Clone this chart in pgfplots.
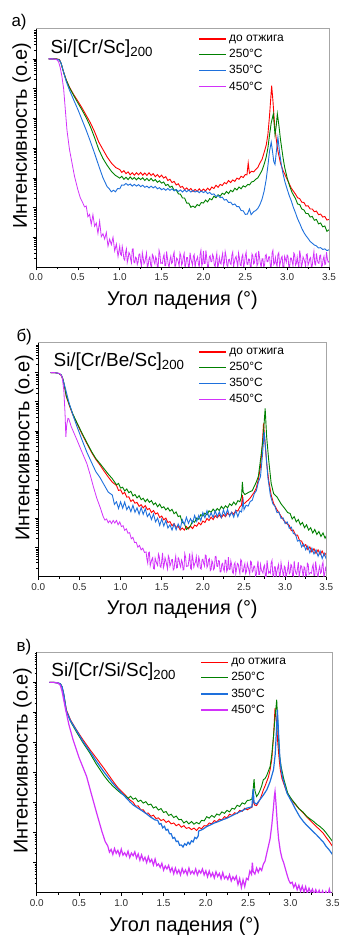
\documentclass[border=0pt]{standalone}
\usepackage{fontspec}
\setmainfont{Liberation Sans}
\usepackage{pgfplots}
\pgfplotsset{compat=1.18}
\definecolor{cred}{RGB}{255,0,0}
\definecolor{cgreen}{RGB}{0,128,0}
\definecolor{cblue}{RGB}{30,112,220}
\definecolor{cmag}{RGB}{210,50,250}
\definecolor{tickgray}{RGB}{45,45,45}
\pgfplotsset{
 panel/.style={
  scale only axis, clip mode=individual,
  xmin=0, xmax=3.5, ymin=0, ymax=8.04,
  axis x line*=bottom, axis y line*=left,
  axis line style={black, line width=0.9bp, -},
  xtick={0,0.5,1,1.5,2,2.5,3,3.5},
  minor xtick={0.25,0.75,1.25,1.75,2.25,2.75,3.25},
  ytick={1,2,3,4,5,6,7},
  minor ytick={0.301,0.477,0.602,0.699,0.778,0.845,0.903,0.954,
   1.301,1.477,1.602,1.699,1.778,1.845,1.903,1.954,
   2.301,2.477,2.602,2.699,2.778,2.845,2.903,2.954,
   3.301,3.477,3.602,3.699,3.778,3.845,3.903,3.954,
   4.301,4.477,4.602,4.699,4.778,4.845,4.903,4.954,
   5.301,5.477,5.602,5.699,5.778,5.845,5.903,5.954,
   6.301,6.477,6.602,6.699,6.778,6.845,6.903,6.954,
   7.301,7.477,7.602,7.699,7.778,7.845,7.903,7.954},
  yticklabels={},
  tick align=outside,
  major tick length=3.5bp, minor tick length=2bp,
  every tick/.style={black, line width=0.6bp},
  xticklabel style={font=\fontsize{10}{11}\selectfont, text=tickgray},
  /pgf/number format/.cd, fixed, fixed zerofill, precision=1, assume math mode=true, /pgfplots/.cd,
  xlabel={Угол падения (°)},
  xlabel style={font=\fontsize{20}{24}\selectfont, at={(axis description cs:0.5,-0.163)}, anchor=base},
  ylabel={Интенсивность (о.е)},
  ylabel style={font=\fontsize{20}{24}\selectfont, at={(axis description cs:-0.031,0.55)}, anchor=base, rotate=0},
  legend style={draw=none, fill=none, inner sep=0pt, outer sep=0pt, anchor=north west, text=black,
   font=\fontsize{12}{12.5}\selectfont, row sep=2.3bp, cells={anchor=west}},
  legend image code/.code={\draw[#1] (0bp,0bp) -- (27bp,0bp);},
 }
}
\begin{document}
\begin{tikzpicture}
\useasboundingbox (0,0) rectangle (339bp,935bp);
% ---------------- panel a ----------------
\node[anchor=base west, font=\fontsize{17}{18}\selectfont] at (8bp,908bp) {а)};
\begin{axis}[panel, at={(36bp,668bp)}, anchor=south west, width=293bp, height=239bp,
  legend style={at={(axis description cs:0.553,0.978)}}]
\addlegendimage{cred, line width=2.2bp}\addlegendentry{до отжига}
\addlegendimage{cgreen, line width=1bp}\addlegendentry{250°C}
\addlegendimage{cblue, line width=1bp}\addlegendentry{350°C}
\addlegendimage{cmag, line width=1bp}\addlegendentry{450°C}
\addplot[forget plot, cred, line width=0.9bp] coordinates {
(0.15,7.00)(0.20,7.00)(0.25,7.00)(0.28,6.98)(0.30,6.85)(0.33,6.55)(0.36,6.30)(0.40,6.05)(0.45,5.80)(0.50,5.58)
(0.55,5.35)(0.60,5.10)(0.65,4.85)(0.70,4.55)(0.75,4.20)(0.80,3.95)(0.85,3.70)(0.90,3.50)(0.95,3.35)
(1.000,3.28)(1.025,3.18)(1.050,3.24)(1.075,3.14)(1.100,3.20)(1.125,3.10)(1.150,3.17)(1.175,3.09)(1.200,3.17)(1.225,3.10)
(1.250,3.18)(1.275,3.09)(1.300,3.16)(1.325,3.08)(1.350,3.17)(1.375,3.08)(1.400,3.14)(1.425,3.04)(1.450,3.11)(1.475,3.02)
(1.500,3.09)(1.525,2.99)(1.550,3.04)(1.575,2.91)(1.600,2.95)(1.625,2.84)(1.650,2.88)(1.675,2.76)(1.700,2.80)(1.725,2.68)
(1.750,2.71)(1.775,2.60)(1.800,2.66)(1.825,2.58)(1.850,2.64)(1.875,2.54)(1.900,2.61)(1.925,2.54)(1.950,2.63)(1.975,2.55)
(2.000,2.62)(2.025,2.56)(2.050,2.65)(2.075,2.58)(2.100,2.69)(2.125,2.64)(2.150,2.75)(2.175,2.68)(2.200,2.78)(2.225,2.74)
(2.250,2.84)(2.275,2.80)(2.300,2.91)(2.325,2.84)(2.350,2.93)(2.375,2.88)(2.400,2.99)(2.425,2.95)(2.450,3.05)(2.475,3.01)
(2.500,3.11)(2.52,3.10)(2.535,3.50)(2.55,3.15)(2.575,3.22)(2.60,3.20)(2.625,3.28)(2.65,3.35)(2.675,3.50)(2.70,3.62)
(2.725,3.85)(2.75,4.10)(2.77,4.45)(2.79,5.10)(2.815,6.10)(2.83,5.60)(2.85,4.80)(2.87,4.30)(2.89,3.90)(2.92,3.50)
(2.95,3.25)(3.00,2.95)(3.05,2.65)(3.10,2.45)(3.125,2.33)(3.15,2.30)(3.175,2.18)(3.20,2.17)(3.225,2.05)(3.25,2.06)
(3.275,1.95)(3.30,1.95)(3.325,1.86)(3.35,1.88)(3.375,1.76)(3.40,1.78)(3.425,1.68)(3.45,1.70)(3.475,1.58)(3.50,1.60)};
\addplot[forget plot, cgreen, line width=0.9bp] coordinates {
(0.15,7.00)(0.20,7.00)(0.25,6.99)(0.28,6.96)(0.30,6.85)(0.33,6.55)(0.36,6.30)(0.40,6.03)(0.45,5.77)(0.50,5.52)
(0.55,5.28)(0.60,5.02)(0.65,4.72)(0.70,4.35)(0.75,3.95)(0.80,3.65)(0.85,3.42)(0.90,3.22)(0.95,3.08)
(1.000,2.99)(1.025,3.05)(1.050,2.95)(1.075,3.02)(1.100,2.94)(1.125,3.03)(1.150,2.95)(1.175,3.01)(1.200,2.93)(1.225,3.00)
(1.250,2.94)(1.275,3.00)(1.300,2.91)(1.325,2.98)(1.350,2.90)(1.375,2.98)(1.400,2.89)(1.425,2.94)(1.450,2.85)(1.475,2.90)
(1.500,2.82)(1.525,2.86)(1.550,2.74)(1.575,2.78)(1.600,2.68)(1.625,2.72)(1.650,2.58)(1.675,2.60)(1.700,2.46)(1.725,2.45)
(1.750,2.32)(1.775,2.32)(1.800,2.15)(1.825,2.15)(1.850,2.01)(1.875,2.05)(1.900,2.00)(1.925,2.10)(1.950,2.06)(1.975,2.17)
(2.000,2.15)(2.025,2.25)(2.050,2.19)(2.075,2.30)(2.100,2.26)(2.125,2.38)(2.150,2.33)(2.175,2.43)(2.200,2.38)(2.225,2.48)
(2.250,2.44)(2.275,2.54)(2.300,2.47)(2.325,2.58)(2.350,2.53)(2.375,2.65)(2.400,2.59)(2.425,2.69)(2.450,2.63)(2.475,2.73)
(2.500,2.69)(2.53,2.78)(2.55,2.76)(2.575,2.86)(2.60,2.88)(2.625,2.95)(2.65,3.00)(2.675,3.12)(2.70,3.25)(2.725,3.45)
(2.75,3.70)(2.77,4.00)(2.79,4.45)(2.81,4.85)(2.835,5.15)(2.855,4.45)(2.87,4.75)(2.883,5.15)(2.90,4.80)(2.92,4.30)
(2.95,3.70)(2.97,3.36)(3.00,3.00)(3.03,2.72)(3.06,2.50)(3.10,2.30)(3.125,2.12)(3.15,2.10)(3.175,1.95)(3.20,1.92)
(3.225,1.80)(3.25,1.80)(3.275,1.68)(3.30,1.70)(3.325,1.57)(3.35,1.60)(3.375,1.45)(3.40,1.48)(3.425,1.35)(3.45,1.38)
(3.475,1.20)(3.50,1.25)};
\addplot[forget plot, cblue, line width=0.9bp] coordinates {
(0.15,7.00)(0.20,7.00)(0.25,6.99)(0.28,6.96)(0.30,6.85)(0.33,6.55)(0.36,6.25)(0.40,5.95)(0.45,5.62)(0.50,5.30)
(0.55,4.95)(0.60,4.60)(0.65,4.22)(0.70,3.82)(0.75,3.40)(0.80,3.00)(0.85,2.70)
(0.875,2.63)(0.900,2.53)(0.925,2.58)(0.950,2.53)(0.975,2.64)(1.000,2.63)(1.025,2.76)(1.050,2.75)(1.075,2.81)(1.100,2.75)
(1.125,2.79)(1.150,2.72)(1.175,2.78)(1.200,2.72)(1.225,2.77)(1.250,2.70)(1.275,2.75)(1.300,2.68)(1.325,2.72)(1.350,2.66)
(1.375,2.72)(1.400,2.66)(1.425,2.71)(1.450,2.63)(1.475,2.67)(1.500,2.60)(1.525,2.64)(1.550,2.58)(1.575,2.64)(1.600,2.58)
(1.625,2.63)(1.650,2.56)(1.675,2.61)(1.700,2.54)(1.725,2.59)(1.750,2.52)(1.775,2.59)(1.800,2.53)(1.825,2.59)(1.850,2.52)
(1.875,2.58)(1.900,2.52)(1.925,2.56)(1.950,2.50)(1.975,2.56)(2.000,2.50)(2.025,2.55)(2.050,2.47)(2.075,2.51)(2.100,2.44)
(2.125,2.46)(2.150,2.37)(2.175,2.41)(2.200,2.33)(2.225,2.35)(2.250,2.25)(2.275,2.27)(2.300,2.17)(2.325,2.18)(2.350,2.09)
(2.375,2.12)(2.400,2.03)(2.425,2.03)(2.450,1.90)(2.475,1.89)(2.500,1.77)(2.525,1.78)(2.55,1.95)(2.57,1.76)(2.60,1.86)
(2.625,1.90)(2.65,1.97)(2.675,2.10)(2.70,2.28)(2.725,2.55)(2.75,2.95)(2.77,3.40)(2.79,3.90)(2.81,4.20)(2.825,3.90)
(2.84,3.55)(2.855,3.45)(2.87,3.85)(2.89,4.36)(2.91,3.85)(2.93,3.45)(2.95,3.15)(2.975,2.85)(3.00,2.62)(3.025,2.40)
(3.05,2.22)(3.075,2.00)(3.10,1.82)(3.125,1.62)(3.15,1.47)(3.175,1.30)(3.20,1.16)(3.225,1.05)(3.25,0.96)(3.275,0.86)
(3.30,0.80)(3.325,0.74)(3.35,0.71)(3.375,0.64)(3.40,0.65)(3.425,0.59)(3.45,0.61)(3.475,0.55)(3.50,0.58)};
\addplot[forget plot, cmag, line width=0.8bp] coordinates {
(0.15,7.00)(0.20,7.00)(0.25,6.97)(0.27,6.90)(0.29,6.70)(0.31,6.40)(0.33,6.00)(0.35,5.30)(0.37,4.60)(0.40,3.95)
(0.43,3.50)(0.46,3.05)(0.50,2.60)(0.53,2.32)(0.56,2.15)(0.58,2.02)
(0.60,2.05)(0.62,1.69)(0.64,1.77)(0.66,1.43)(0.68,1.76)(0.70,1.37)(0.72,1.48)(0.74,1.13)(0.76,1.54)(0.78,1.02)
(0.80,1.12)(0.82,0.94)(0.84,1.16)(0.86,0.70)(0.88,0.94)(0.90,0.75)(0.92,1.00)(0.94,0.54)(0.96,0.77)(0.98,0.35)
(1.00,0.70)(1.01,0.43)(1.02,0.39)(1.03,0.69)(1.04,0.52)(1.05,0.27)(1.06,0.23)(1.07,0.49)(1.08,0.61)(1.09,0.15)
(1.10,0.27)(1.11,0.49)(1.12,0.44)(1.13,0.27)(1.14,0.14)(1.15,0.60)(1.16,0.61)(1.17,0.16)(1.18,0.14)(1.19,0.33)
(1.20,0.30)(1.21,0.08)(1.22,0.17)(1.23,0.43)(1.24,0.44)(1.25,0.17)(1.26,0.02)(1.27,0.48)(1.28,0.31)(1.29,0.11)
(1.30,0.17)(1.31,0.32)(1.32,0.47)(1.33,-0.02)(1.34,0.06)(1.35,0.28)(1.36,0.34)(1.37,0.06)(1.38,-0.03)(1.39,0.42)
(1.40,0.37)(1.41,0.18)(1.42,0.10)(1.43,0.34)(1.44,0.27)(1.45,0.00)(1.46,0.02)(1.47,0.56)(1.48,0.44)(1.49,0.12)
(1.50,0.14)(1.51,0.12)(1.52,0.32)(1.53,0.42)(1.54,0.04)(1.55,0.04)(1.56,0.52)(1.57,0.30)(1.58,0.07)(1.59,0.00)
(1.60,0.24)(1.61,0.36)(1.62,0.12)(1.63,0.16)(1.64,0.40)(1.65,0.50)(1.66,0.00)(1.67,0.08)(1.68,0.30)(1.69,0.26)
(1.70,0.17)(1.71,0.02)(1.72,0.47)(1.73,0.38)(1.74,0.06)(1.75,0.14)(1.76,0.34)(1.77,0.46)(1.78,-0.03)(1.79,0.10)
(1.80,0.32)(1.81,0.32)(1.82,0.02)(1.83,-0.02)(1.84,0.48)(1.85,0.28)(1.86,0.16)(1.87,0.06)(1.88,0.36)(1.89,0.42)
(1.90,-0.02)(1.91,0.18)(1.92,0.26)(1.93,0.34)(1.94,0.10)(1.95,0.00)(1.96,0.42)(1.97,0.56)(1.98,0.04)(1.99,0.12)
(2.00,0.54)(2.01,0.12)(2.02,0.12)(2.03,0.56)(2.04,0.28)(2.05,0.00)(2.06,0.00)(2.07,0.34)(2.08,0.38)(2.09,0.18)
(2.10,0.18)(2.11,0.42)(2.12,0.34)(2.13,0.06)(2.14,0.02)(2.15,0.28)(2.16,0.46)(2.17,-0.02)(2.18,0.08)(2.19,0.32)
(2.20,0.14)(2.21,0.10)(2.22,0.32)(2.23,0.46)(2.24,0.04)(2.25,0.14)(2.26,0.52)(2.27,0.38)(2.28,0.07)(2.29,0.02)
(2.30,0.24)(2.31,0.26)(2.32,0.12)(2.33,0.08)(2.34,0.40)(2.35,0.50)(2.36,0.00)(2.37,0.16)(2.38,0.30)(2.39,0.36)
(2.40,0.17)(2.41,0.00)(2.42,0.47)(2.43,0.30)(2.44,0.06)(2.45,0.04)(2.46,0.34)(2.47,0.42)(2.48,-0.03)(2.49,0.12)
(2.50,0.37)(2.51,0.50)(2.52,0.10)(2.53,0.08)(2.54,0.27)(2.55,0.26)(2.56,0.02)(2.57,0.02)(2.58,0.44)(2.59,0.38)
(2.60,0.10)(2.61,0.14)(2.62,0.42)(2.63,0.46)(2.64,0.04)(2.65,0.10)(2.66,0.54)(2.67,0.32)(2.68,0.12)(2.69,-0.02)
(2.70,0.28)(2.71,0.28)(2.72,0.00)(2.73,0.06)(2.74,0.38)(2.75,0.42)(2.76,0.18)(2.77,0.18)(2.78,0.34)(2.79,0.34)
(2.80,0.02)(2.81,0.00)(2.82,0.46)(2.83,0.56)(2.84,0.08)(2.85,0.12)(2.86,0.32)(2.87,0.12)(2.88,0.02)(2.89,0.42)
(2.90,0.48)(2.91,0.04)(2.92,0.16)(2.93,0.30)(2.94,0.36)(2.95,0.00)(2.96,-0.02)(2.97,0.36)(2.98,0.26)(2.99,0.16)
(3.00,0.40)(3.01,0.36)(3.02,0.00)(3.03,0.00)(3.04,0.30)(3.05,0.30)(3.06,0.17)(3.07,0.04)(3.08,0.47)(3.09,0.42)
(3.10,0.06)(3.11,0.12)(3.12,0.34)(3.13,0.12)(3.14,-0.03)(3.15,0.56)(3.16,0.37)(3.17,0.00)(3.18,0.10)(3.19,0.34)
(3.20,0.27)(3.21,0.18)(3.22,0.02)(3.23,0.42)(3.24,0.44)(3.25,0.06)(3.26,0.14)(3.27,0.28)(3.28,0.32)(3.29,-0.02)
(3.30,0.04)(3.31,0.32)(3.32,0.52)(3.33,0.10)(3.34,0.07)(3.35,0.46)(3.36,0.24)(3.37,0.14)(3.38,0.12)(3.39,0.38)
(3.40,0.40)(3.41,0.02)(3.42,0.04)(3.43,0.26)(3.44,0.36)(3.45,0.08)(3.46,0.10)(3.47,0.50)(3.48,0.28)(3.49,0.16)
(3.50,0.20)};
\draw[gray!70, line width=0.6bp] (axis description cs:0,1) -- (axis description cs:1,1) -- (axis description cs:1,0);
\node[anchor=base west, font=\fontsize{19}{20}\selectfont] at (axis description cs:0.0375,0.895) {Si/[Cr/Sc]\textsubscript{200}};
\end{axis}
% ---------------- panel b ----------------
\node[anchor=base west, font=\fontsize{17}{18}\selectfont] at (13bp,593bp) {б)};
\begin{axis}[panel, at={(38.3bp,358.3bp)}, anchor=south west, width=288bp, height=234.4bp,
  legend style={at={(axis description cs:0.555,0.984)}}]
\addlegendimage{cred, line width=2.2bp}\addlegendentry{до отжига}
\addlegendimage{cgreen, line width=1bp}\addlegendentry{250°C}
\addlegendimage{cblue, line width=1bp}\addlegendentry{350°C}
\addlegendimage{cmag, line width=1bp}\addlegendentry{450°C}
\addplot[forget plot, cred, line width=0.9bp] coordinates {
(0.15,7.00)(0.20,7.00)(0.25,6.97)(0.28,6.90)(0.30,6.75)(0.32,6.50)(0.34,6.18)(0.38,5.85)(0.42,5.55)(0.47,5.26)
(0.53,4.90)(0.59,4.57)(0.65,4.25)(0.70,4.02)(0.75,3.83)(0.80,3.62)(0.85,3.42)(0.90,3.24)
(0.950,3.13)(0.975,2.96)(1.000,2.98)(1.025,2.84)(1.050,2.89)(1.075,2.73)(1.100,2.74)(1.125,2.58)(1.150,2.64)(1.175,2.52)
(1.200,2.55)(1.225,2.41)(1.250,2.47)(1.275,2.36)(1.300,2.44)(1.325,2.30)(1.350,2.34)(1.375,2.20)(1.400,2.27)(1.425,2.15)
(1.450,2.19)(1.475,2.03)(1.500,2.08)(1.525,1.95)(1.550,2.01)(1.575,1.86)(1.600,1.89)(1.625,1.75)(1.650,1.82)(1.675,1.69)
(1.700,1.73)(1.725,1.60)(1.750,1.67)(1.775,1.60)(1.800,1.72)(1.825,1.64)(1.850,1.73)(1.875,1.65)(1.900,1.77)(1.925,1.73)
(1.950,1.85)(1.975,1.78)(2.000,1.91)(2.025,1.86)(2.050,2.00)(2.075,1.93)(2.100,2.04)(2.125,1.96)(2.150,2.09)(2.175,2.02)
(2.200,2.12)(2.225,2.02)(2.250,2.13)(2.275,2.06)(2.300,2.18)(2.325,2.11)(2.350,2.21)(2.375,2.14)(2.400,2.27)(2.425,2.25)
(2.450,2.40)(2.47,2.45)(2.48,2.80)(2.49,2.50)(2.51,2.52)(2.53,2.58)(2.55,2.62)(2.575,2.70)(2.60,2.80)(2.625,2.90)
(2.65,3.05)(2.675,3.35)(2.70,3.77)(2.72,4.40)(2.737,5.26)(2.755,4.60)(2.775,3.90)(2.80,3.30)(2.83,2.80)(2.86,2.51)
(2.90,2.30)(2.94,2.12)(2.98,1.94)(3.02,1.82)(3.05,1.76)(3.075,1.58)(3.10,1.60)(3.125,1.42)(3.15,1.43)(3.175,1.24)
(3.20,1.22)(3.225,1.05)(3.25,1.10)(3.275,0.93)(3.30,1.02)(3.325,0.85)(3.35,0.96)(3.375,0.80)(3.40,0.92)(3.425,0.76)
(3.45,0.88)(3.475,0.72)(3.50,0.82)};
\addplot[forget plot, cgreen, line width=0.9bp] coordinates {
(0.15,7.00)(0.20,7.00)(0.25,6.97)(0.28,6.92)(0.30,6.78)(0.32,6.52)(0.34,6.20)(0.38,5.88)(0.42,5.58)(0.47,5.28)
(0.53,4.93)(0.59,4.60)(0.65,4.28)(0.70,4.05)(0.75,3.88)(0.80,3.70)(0.85,3.52)(0.90,3.36)
(0.950,3.15)(0.975,3.20)(1.000,3.04)(1.025,3.07)(1.050,2.94)(1.075,3.01)(1.100,2.88)(1.125,2.93)(1.150,2.77)(1.175,2.82)
(1.200,2.70)(1.225,2.78)(1.250,2.64)(1.275,2.69)(1.300,2.57)(1.325,2.66)(1.350,2.55)(1.375,2.61)(1.400,2.47)(1.425,2.53)
(1.450,2.40)(1.475,2.49)(1.500,2.36)(1.525,2.40)(1.550,2.29)(1.575,2.36)(1.600,2.25)(1.625,2.31)(1.650,2.16)(1.675,2.22)
(1.700,2.06)(1.725,2.09)(1.750,1.86)(1.775,1.83)(1.800,1.62)(1.825,1.68)(1.850,1.75)(1.875,1.91)(1.900,1.87)(1.925,2.01)
(1.950,1.97)(1.975,2.13)(2.000,2.08)(2.025,2.18)(2.050,2.12)(2.075,2.26)(2.100,2.21)(2.125,2.32)(2.150,2.23)(2.175,2.34)
(2.200,2.27)(2.225,2.41)(2.250,2.33)(2.275,2.43)(2.300,2.36)(2.325,2.50)(2.350,2.44)(2.375,2.56)(2.400,2.47)(2.425,2.61)
(2.450,2.57)(2.47,2.75)(2.48,3.25)(2.49,2.90)(2.51,2.82)(2.53,2.85)(2.56,2.90)(2.60,2.95)(2.625,3.10)(2.65,3.25)
(2.675,3.45)(2.70,4.00)(2.73,4.70)(2.757,5.77)(2.775,4.80)(2.80,4.00)(2.83,3.20)(2.86,2.85)(2.90,2.74)(2.95,2.50)
(3.00,2.32)(3.03,2.20)(3.06,2.17)(3.085,1.98)(3.11,2.06)(3.135,1.88)(3.16,1.96)(3.185,1.78)(3.21,1.86)(3.235,1.68)
(3.26,1.78)(3.285,1.60)(3.31,1.68)(3.335,1.50)(3.36,1.62)(3.385,1.45)(3.41,1.55)(3.435,1.38)(3.46,1.50)(3.485,1.32)
(3.50,1.40)};
\addplot[forget plot, cblue, line width=0.9bp] coordinates {
(0.15,7.00)(0.20,7.00)(0.25,6.97)(0.28,6.92)(0.30,6.75)(0.33,6.45)(0.37,6.00)(0.42,5.55)(0.47,5.15)(0.53,4.70)
(0.59,4.27)(0.65,3.90)(0.70,3.60)(0.75,3.40)(0.80,3.15)(0.85,2.90)
(0.900,2.80)(0.925,2.48)(0.950,2.57)(0.975,2.34)(1.000,2.57)(1.025,2.35)(1.050,2.56)(1.075,2.30)(1.100,2.42)(1.125,2.23)
(1.150,2.45)(1.175,2.21)(1.200,2.36)(1.225,2.14)(1.250,2.37)(1.275,2.14)(1.300,2.33)(1.325,2.06)(1.350,2.17)(1.375,1.96)
(1.400,2.15)(1.425,1.88)(1.450,2.01)(1.475,1.76)(1.500,1.98)(1.525,1.74)(1.550,1.93)(1.575,1.67)(1.600,1.78)(1.625,1.60)
(1.650,1.81)(1.675,1.61)(1.700,1.81)(1.725,1.65)(1.750,1.95)(1.775,1.79)(1.800,2.04)(1.825,1.83)(1.850,1.99)(1.875,1.85)
(1.900,2.10)(1.925,1.90)(1.950,2.10)(1.975,1.92)(2.000,2.20)(2.025,2.02)(2.050,2.26)(2.075,2.03)(2.100,2.19)(2.125,2.03)
(2.150,2.26)(2.175,2.05)(2.200,2.23)(2.225,2.03)(2.250,2.29)(2.275,2.09)(2.300,2.31)(2.325,2.07)(2.350,2.21)(2.375,2.04)
(2.400,2.27)(2.425,2.06)(2.450,2.26)(2.47,2.22)(2.49,2.60)(2.50,2.30)(2.525,2.45)(2.55,2.42)(2.575,2.58)(2.60,2.62)
(2.625,2.85)(2.65,2.95)(2.675,3.25)(2.70,3.43)(2.725,4.20)(2.745,4.97)(2.765,4.30)(2.79,3.40)(2.82,2.80)(2.85,2.50)
(2.875,2.42)(2.90,2.20)(2.925,2.22)(2.95,2.00)(2.975,2.02)(3.00,1.82)(3.025,1.88)(3.05,1.66)(3.075,1.70)(3.10,1.48)
(3.125,1.46)(3.15,1.22)(3.175,1.25)(3.20,1.02)(3.225,1.12)(3.25,0.92)(3.275,1.05)(3.30,0.82)(3.325,0.98)(3.35,0.78)
(3.375,0.92)(3.40,0.70)(3.425,0.88)(3.45,0.62)(3.475,0.80)(3.50,0.60)};
\addplot[forget plot, cmag, line width=0.8bp] coordinates {
(0.15,7.00)(0.20,7.00)(0.26,6.97)(0.29,6.85)(0.31,6.40)(0.325,5.60)(0.335,4.80)(0.345,5.20)(0.36,5.43)(0.37,5.42)
(0.40,5.15)(0.47,4.69)(0.53,4.28)(0.59,3.88)(0.63,3.50)(0.67,3.08)(0.71,2.70)(0.75,2.39)(0.79,2.05)(0.81,1.94)
(0.83,1.98)(0.85,1.85)(0.87,1.92)(0.89,1.82)(0.91,1.93)(0.93,1.84)(0.95,1.93)(0.97,1.78)(0.99,1.88)(1.01,1.72)
(1.03,1.75)(1.05,1.59)(1.07,1.64)(1.09,1.49)(1.11,1.51)(1.13,1.30)(1.15,1.35)(1.17,1.17)(1.19,1.18)(1.21,1.01)
(1.23,1.07)(1.25,0.92)(1.27,0.98)(1.29,0.83)
(1.31,0.85)(1.32,0.60)(1.33,0.46)(1.34,0.82)(1.35,0.84)(1.36,0.37)(1.37,0.48)(1.38,0.60)(1.39,0.65)(1.40,0.28)
(1.41,0.26)(1.42,0.64)(1.43,0.54)(1.44,0.44)(1.45,0.38)(1.46,0.78)(1.47,0.70)(1.48,0.36)(1.49,0.32)(1.50,0.54)
(1.51,0.82)(1.52,0.30)(1.53,0.40)(1.54,0.65)(1.55,0.55)(1.56,0.41)(1.57,0.27)(1.58,0.72)(1.59,0.64)(1.60,0.36)
(1.61,0.44)(1.62,0.58)(1.63,0.59)(1.64,0.23)(1.65,0.27)(1.66,0.52)(1.67,0.70)(1.68,0.30)(1.69,0.31)(1.70,0.65)
(1.71,0.60)(1.72,0.41)(1.73,0.33)(1.74,0.57)(1.75,0.50)(1.76,0.23)(1.77,0.25)(1.78,0.79)(1.79,0.67)(1.80,0.35)
(1.81,0.37)(1.82,0.36)(1.83,0.56)(1.84,0.80)(1.85,0.29)(1.86,0.25)(1.87,0.77)(1.88,0.60)(1.89,0.33)(1.90,0.44)
(1.91,0.50)(1.92,0.69)(1.93,0.39)(1.94,0.33)(1.95,0.67)(1.96,0.56)(1.97,0.28)(1.98,0.26)(1.99,0.58)(2.00,0.60)
(2.01,0.45)(2.02,0.37)(2.03,0.74)(2.04,0.72)(2.05,0.32)(2.06,0.39)(2.07,0.59)(2.08,0.62)(2.09,0.21)(2.10,0.25)
(2.11,0.55)(2.12,0.48)(2.13,0.24)(2.14,0.29)(2.15,0.69)(2.16,0.70)(2.17,0.36)(2.18,0.35)(2.19,0.55)(2.20,0.54)
(2.21,0.16)(2.22,0.17)(2.23,0.43)(2.24,0.46)(2.25,0.26)(2.26,0.19)(2.27,0.57)(2.28,0.56)(2.29,0.18)(2.30,0.25)
(2.31,0.67)(2.32,0.25)(2.33,0.24)(2.34,0.54)(2.35,0.40)(2.36,0.15)(2.37,0.11)(2.38,0.41)(2.39,0.48)(2.40,0.10)
(2.41,0.28)(2.42,0.46)(2.43,0.43)(2.44,0.25)(2.45,0.11)(2.46,0.59)(2.47,0.55)(2.48,0.16)(2.49,0.16)(2.50,0.34)
(2.51,0.45)(2.52,0.10)(2.53,0.18)(2.54,0.46)(2.55,0.34)(2.56,0.21)(2.57,0.09)(2.58,0.53)(2.59,0.50)(2.60,0.16)
(2.61,0.20)(2.62,0.37)(2.63,0.37)(2.64,0.02)(2.65,0.08)(2.66,0.31)(2.67,0.55)(2.68,0.08)(2.69,0.08)(2.70,0.42)
(2.71,0.24)(2.72,0.18)(2.73,0.12)(2.74,0.34)(2.75,0.40)(2.76,0.00)(2.77,0.00)(2.78,0.56)(2.79,0.30)(2.80,0.12)
(2.81,0.17)(2.82,0.12)(2.83,0.47)(2.84,0.56)(2.85,0.06)(2.86,0.00)(2.87,0.34)(2.88,0.34)(2.89,-0.03)(2.90,0.18)
(2.91,0.32)(2.92,0.42)(2.93,0.02)(2.94,0.06)(2.95,0.48)(2.96,0.28)(2.97,0.16)(2.98,-0.02)(2.99,0.36)(3.00,0.32)
(3.01,-0.02)(3.02,0.10)(3.03,0.26)(3.04,0.46)(3.05,0.10)(3.06,0.14)(3.07,0.42)(3.08,0.38)(3.09,0.04)(3.10,0.02)
(3.11,0.54)(3.12,0.26)(3.13,0.12)(3.14,0.08)(3.15,0.28)(3.16,0.50)(3.17,0.00)(3.18,0.16)(3.19,0.38)(3.20,0.36)
(3.21,0.18)(3.22,0.00)(3.23,0.34)(3.24,0.30)(3.25,0.02)(3.26,0.04)(3.27,0.46)(3.28,0.42)(3.29,0.08)(3.30,0.12)
(3.31,0.14)(3.32,0.12)(3.33,0.32)(3.34,0.42)(3.35,0.04)(3.36,0.04)(3.37,0.52)(3.38,0.30)(3.39,0.07)(3.40,0.00)
(3.41,0.24)(3.42,0.36)(3.43,0.12)(3.44,0.16)(3.45,0.40)(3.46,0.50)(3.47,0.00)(3.48,0.08)(3.49,0.30)(3.50,0.20)};
\draw[gray!70, line width=0.6bp] (axis description cs:0,1) -- (axis description cs:1,1) -- (axis description cs:1,0);
\node[anchor=base west, font=\fontsize{19}{20}\selectfont] at (axis description cs:0.041,0.896) {Si/[Cr/Be/Sc]\textsubscript{200}};
\end{axis}
% ---------------- panel c ----------------
\node[anchor=base west, font=\fontsize{17}{18}\selectfont] at (13bp,283bp) {в)};
\begin{axis}[panel, at={(36.7bp,42.3bp)}, anchor=south west, width=296bp, height=240.4bp, ymax=8.0,
  legend style={at={(axis description cs:0.552,0.983)}}]
\addlegendimage{cred, line width=1bp}\addlegendentry{до отжига}
\addlegendimage{cgreen, line width=1bp}\addlegendentry{250°C}
\addlegendimage{cblue, line width=2.2bp}\addlegendentry{350°C}
\addlegendimage{cmag, line width=2.2bp}\addlegendentry{450°C}
\addplot[forget plot, cred, line width=0.9bp] coordinates {
(0.15,7.00)(0.20,7.00)(0.25,6.98)(0.28,6.95)(0.30,6.85)(0.32,6.60)(0.35,6.09)(0.40,5.75)(0.47,5.42)(0.55,5.08)
(0.63,4.76)(0.70,4.50)(0.75,4.31)(0.80,4.12)(0.85,3.92)(0.90,3.72)(0.95,3.53)(1.00,3.38)(1.05,3.24)(1.10,3.09)
(1.14,3.01)(1.17,2.88)(1.20,2.89)(1.23,2.76)(1.26,2.76)(1.29,2.64)(1.32,2.65)(1.35,2.54)(1.38,2.58)(1.41,2.47)
(1.44,2.49)(1.47,2.40)(1.50,2.44)(1.53,2.34)(1.56,2.39)(1.59,2.29)(1.62,2.32)(1.65,2.23)(1.68,2.28)(1.71,2.18)
(1.74,2.23)(1.77,2.14)(1.80,2.17)(1.83,2.10)(1.86,2.15)(1.89,2.07)(1.92,2.17)(1.95,2.13)(1.98,2.23)(2.01,2.22)
(2.04,2.32)(2.07,2.29)(2.10,2.40)(2.13,2.36)(2.16,2.45)(2.19,2.42)(2.22,2.53)(2.25,2.49)(2.28,2.61)(2.31,2.57)
(2.34,2.66)(2.37,2.63)(2.40,2.74)(2.43,2.71)(2.46,2.81)(2.49,2.76)(2.52,2.81)(2.545,2.84)(2.56,3.10)(2.575,2.92)
(2.60,2.90)(2.62,3.00)(2.64,3.10)(2.66,3.25)(2.68,3.42)(2.70,3.55)(2.72,3.70)(2.74,3.85)(2.76,4.09)(2.78,4.45)
(2.80,5.20)(2.818,6.14)(2.835,5.70)(2.85,5.00)(2.865,4.50)(2.88,4.10)(2.90,3.80)(2.95,3.40)(3.00,3.14)(3.05,2.96)
(3.10,2.80)(3.15,2.66)(3.19,2.53)(3.23,2.42)(3.27,2.30)(3.31,2.19)(3.35,2.09)(3.39,1.97)(3.42,1.85)(3.46,1.70)
(3.50,1.53)};
\addplot[forget plot, cgreen, line width=0.9bp] coordinates {
(0.15,7.00)(0.20,7.00)(0.25,6.98)(0.28,6.95)(0.30,6.85)(0.32,6.60)(0.35,6.05)(0.40,5.70)(0.47,5.35)(0.55,4.98)
(0.63,4.64)(0.70,4.30)(0.75,4.09)(0.80,3.88)(0.85,3.70)(0.90,3.55)(0.95,3.42)(1.00,3.30)(1.05,3.22)
(1.08,3.14)(1.11,3.21)(1.14,3.11)(1.17,3.15)(1.20,3.03)(1.23,3.08)(1.26,2.98)(1.29,3.03)(1.32,2.92)(1.35,2.95)
(1.38,2.82)(1.41,2.86)(1.44,2.75)(1.47,2.80)(1.50,2.67)(1.53,2.70)(1.56,2.57)(1.59,2.61)(1.62,2.50)(1.65,2.55)
(1.68,2.43)(1.71,2.44)(1.74,2.32)(1.77,2.38)(1.80,2.29)(1.83,2.37)(1.86,2.28)(1.89,2.34)(1.92,2.29)(1.95,2.41)
(1.98,2.39)(2.01,2.53)(2.04,2.48)(2.07,2.57)(2.10,2.51)(2.13,2.62)(2.16,2.58)(2.19,2.69)(2.22,2.64)(2.25,2.74)
(2.28,2.69)(2.31,2.81)(2.34,2.78)(2.37,2.91)(2.40,2.87)(2.43,2.99)(2.46,2.95)(2.49,3.07)(2.52,3.08)(2.545,3.12)
(2.56,3.45)(2.57,3.78)(2.58,3.40)(2.60,3.20)(2.62,3.28)(2.64,3.40)(2.66,3.55)(2.68,3.76)(2.70,3.80)(2.72,3.90)
(2.74,4.05)(2.76,4.20)(2.78,4.60)(2.80,5.20)(2.82,5.90)(2.838,6.42)(2.855,5.40)(2.87,4.60)(2.89,4.20)(2.92,3.80)
(2.97,3.30)(3.02,3.09)(3.06,2.95)(3.10,2.80)(3.15,2.68)(3.19,2.55)(3.23,2.46)(3.27,2.38)(3.31,2.28)(3.35,2.20)
(3.39,2.10)(3.42,2.00)(3.46,1.85)(3.50,1.70)};
\addplot[forget plot, cblue, line width=1.2bp] coordinates {
(0.15,7.00)(0.20,7.00)(0.25,6.98)(0.28,6.95)(0.30,6.85)(0.32,6.60)(0.35,6.05)(0.40,5.72)(0.47,5.40)(0.55,5.02)
(0.63,4.70)(0.70,4.40)(0.75,4.20)(0.80,4.00)(0.85,3.82)(0.90,3.64)(0.95,3.48)(1.00,3.33)(1.05,3.18)(1.10,3.03)
(1.14,2.92)(1.20,2.81)(1.25,2.72)(1.30,2.62)(1.34,2.53)(1.40,2.42)
(1.43,2.41)(1.45,2.28)(1.47,2.30)(1.49,2.16)(1.51,2.21)(1.53,2.08)(1.55,2.11)(1.57,1.96)(1.59,1.96)(1.61,1.81)
(1.63,1.84)(1.65,1.70)(1.67,1.72)(1.69,1.58)(1.71,1.59)(1.73,1.52)(1.75,1.63)(1.77,1.58)(1.79,1.68)(1.81,1.61)
(1.83,1.73)(1.85,1.69)(1.87,1.84)(1.89,1.80)(1.91,1.89)(1.915,2.05)(1.94,2.08)(1.97,2.12)(2.01,2.20)(2.05,2.25)
(2.10,2.32)(2.15,2.37)(2.20,2.43)(2.25,2.48)(2.30,2.55)(2.35,2.62)(2.40,2.69)(2.45,2.76)(2.48,2.81)(2.52,2.84)
(2.545,2.86)(2.56,3.45)(2.57,3.00)(2.60,2.95)(2.64,3.10)(2.68,3.25)(2.72,3.42)(2.76,3.70)(2.80,4.09)(2.82,4.60)
(2.835,5.40)(2.846,6.09)(2.86,5.30)(2.875,4.50)(2.89,4.10)(2.91,3.80)(2.96,3.31)(3.02,3.00)(3.06,2.78)(3.11,2.53)
(3.15,2.38)(3.19,2.25)(3.23,2.14)(3.27,2.03)(3.31,1.92)(3.35,1.80)(3.39,1.68)(3.42,1.55)(3.46,1.42)(3.50,1.26)};
\addplot[forget plot, cmag, line width=1.2bp] coordinates {
(0.15,7.00)(0.20,7.00)(0.25,6.98)(0.28,6.90)(0.30,6.70)(0.34,6.12)(0.38,5.60)(0.43,5.09)(0.50,4.50)(0.59,3.87)
(0.65,3.25)(0.71,2.64)(0.77,2.05)(0.81,1.70)
(0.84,1.56)(0.86,1.35)(0.88,1.44)(0.90,1.27)(0.92,1.47)(0.94,1.31)(0.96,1.41)(0.98,1.24)(1.00,1.45)(1.02,1.25)
(1.04,1.33)(1.06,1.22)(1.08,1.38)(1.10,1.17)(1.12,1.32)(1.14,1.23)(1.16,1.36)(1.18,1.15)(1.20,1.29)(1.22,1.08)
(1.24,1.26)(1.26,1.07)(1.28,1.18)(1.30,1.00)(1.32,1.20)(1.34,1.02)(1.36,1.11)(1.38,0.92)(1.40,1.12)(1.42,0.90)
(1.44,0.96)(1.46,0.84)(1.48,0.98)(1.50,0.75)(1.52,0.89)(1.54,0.79)(1.56,0.91)(1.58,0.70)(1.60,0.83)(1.62,0.63)
(1.64,0.82)(1.66,0.64)(1.68,0.76)(1.70,0.59)(1.72,0.81)(1.74,0.65)(1.76,0.76)(1.78,0.60)(1.80,0.82)(1.82,0.63)
(1.84,0.72)(1.86,0.62)(1.88,0.79)(1.90,0.59)(1.92,0.74)(1.94,0.65)(1.96,0.79)(1.98,0.59)(2.00,0.73)(2.02,0.53)
(2.04,0.72)(2.06,0.54)(2.08,0.66)(2.10,0.49)(2.12,0.70)(2.14,0.54)(2.16,0.64)(2.18,0.46)(2.20,0.67)(2.22,0.47)
(2.24,0.55)(2.26,0.44)(2.28,0.60)(2.30,0.39)(2.32,0.53)(2.34,0.43)(2.36,0.55)(2.38,0.27)(2.40,0.47)(2.42,0.17)
(2.44,0.43)(2.46,0.20)(2.48,0.48)(2.50,0.43)(2.52,0.72)(2.54,0.61)(2.55,1.00)(2.56,0.70)(2.58,0.62)(2.60,0.82)
(2.62,0.68)(2.64,0.82)(2.66,0.74)(2.68,0.95)(2.70,1.05)(2.72,1.31)(2.74,1.55)(2.76,1.80)(2.78,2.25)(2.80,2.85)
(2.81,3.20)(2.818,3.37)(2.83,2.95)(2.845,2.30)(2.86,1.80)(2.88,1.40)(2.90,1.15)(2.92,1.00)(2.94,0.80)(2.96,0.60)
(2.98,0.42)(3.00,0.31)(3.02,0.35)(3.04,0.18)(3.06,0.30)(3.08,0.10)(3.10,0.25)(3.12,0.05)(3.14,0.22)(3.16,0.02)
(3.18,0.20)(3.20,-0.02)(3.22,0.15)(3.24,0.00)(3.26,0.12)(3.28,-0.05)(3.30,0.10)(3.32,-0.05)(3.34,0.08)(3.36,-0.08)
(3.38,0.06)(3.40,-0.10)(3.42,0.04)(3.44,-0.10)(3.46,0.12)(3.48,-0.10)(3.50,0.05)};
\draw[gray!70, line width=0.6bp] (axis description cs:0,1) -- (axis description cs:1,1) -- (axis description cs:1,0);
\node[anchor=base west, font=\fontsize{19}{20}\selectfont] at (axis description cs:0.038,0.899) {Si/[Cr/Si/Sc]\textsubscript{200}};
\end{axis}
\end{tikzpicture}
\end{document}
